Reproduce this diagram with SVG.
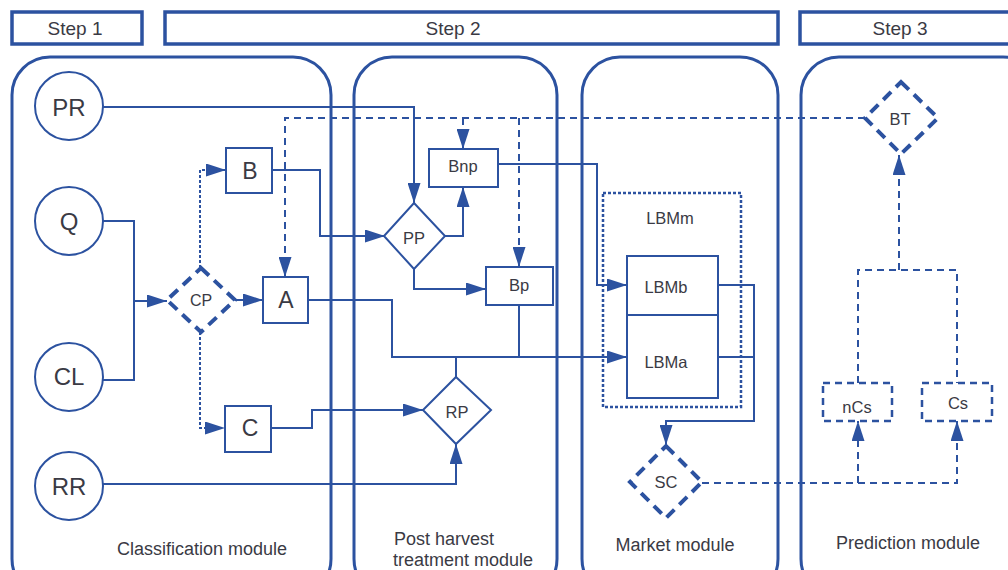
<svg xmlns="http://www.w3.org/2000/svg" width="1008" height="570" viewBox="0 0 1008 570">
<style>
.hdr{fill:#fff;stroke:#2c52a0;stroke-width:3.5}
.mod{fill:none;stroke:#2c52a0;stroke-width:3}
.box{fill:#fff;stroke:#2c52a0;stroke-width:2}
.dbox{fill:#fff;stroke:#2c52a0;stroke-width:2.5;stroke-dasharray:7 5}
.ddia{fill:#fff;stroke:#2c52a0;stroke-width:4;stroke-dasharray:11 7}
.c{fill:none;stroke:#2c52a0;stroke-width:2}
.cd{fill:none;stroke:#2c52a0;stroke-width:2;stroke-dasharray:7 5}
.cdot{fill:none;stroke:#2c52a0;stroke-width:2;stroke-dasharray:3 2}
.t{font-family:"Liberation Sans",Arial,sans-serif;fill:#3a3a44;text-anchor:middle;dominant-baseline:central}
.ml{font-size:18px}
.nl{font-size:16.5px}
</style>
<defs>
<marker id="ah" viewBox="0 0 20 13" refX="20" refY="6.5" markerWidth="20" markerHeight="13" markerUnits="userSpaceOnUse" orient="auto"><path d="M0,0 L20,6.5 L0,13 z" fill="#2c52a0"/></marker>
</defs>
<rect width="1008" height="570" fill="#fff"/>
<g id="headers">
<rect class="hdr" x="12" y="12" width="130" height="32"/>
<text class="t" x="75" y="28" font-size="19">Step 1</text>
<rect class="hdr" x="165" y="12" width="613" height="32"/>
<text class="t" x="453" y="28" font-size="19">Step 2</text>
<rect class="hdr" x="800" y="12" width="230" height="32"/>
<text class="t" x="900" y="28" font-size="19">Step 3</text>
</g>
<g id="modules">
<rect class="mod" x="12" y="57" width="319" height="540" rx="38"/>
<text class="t ml" x="202" y="549">Classification module</text>
<rect class="mod" x="354" y="57" width="203" height="540" rx="38"/>
<text class="t ml" x="394" y="539" style="text-anchor:start">Post harvest</text>
<text class="t ml" x="393" y="560" style="text-anchor:start">treatment module</text>
<rect class="mod" x="582" y="57" width="196" height="540" rx="38"/>
<text class="t ml" x="675" y="545">Market module</text>
<rect class="mod" x="801" y="57" width="240" height="540" rx="38"/>
<text class="t ml" x="908" y="543">Prediction module</text>
</g>
<g id="connectors">
<path class="c" d="M103,107 H414 V203" marker-end="url(#ah)"/>
<path class="cd" d="M865,118 H285 V277" marker-end="url(#ah)"/>
<path class="cd" d="M463,118 V149" marker-end="url(#ah)"/>
<path class="cd" d="M519,118 V267" marker-end="url(#ah)"/>
<path class="c" d="M272,170 H320 V236 H385" marker-end="url(#ah)"/>
<path class="c" d="M445,236 H463 V187" marker-end="url(#ah)"/>
<path class="c" d="M414,268 V289 H486" marker-end="url(#ah)"/>
<path class="c" d="M498,164 H597 V285 H627" marker-end="url(#ah)"/>
<path class="c" d="M308,300 H392 V357 H627" marker-end="url(#ah)"/>
<path class="c" d="M519,305 V357"/>
<path class="c" d="M456,377 V357"/>
<path class="c" d="M271,428 H312 V410 H423" marker-end="url(#ah)"/>
<path class="c" d="M103,484 H456 V444" marker-end="url(#ah)"/>
<path class="cdot" d="M200,268 V170 H226" marker-end="url(#ah)"/>
<path class="cdot" d="M200,332 V428 H225" marker-end="url(#ah)"/>
<path class="c" d="M103,221 H134 V380 H103"/>
<path class="c" d="M134,301 H167" marker-end="url(#ah)"/>
<path class="c" d="M234,300 H263" marker-end="url(#ah)"/>
<path class="c" d="M718,285 H754 V421 H666 V445" marker-end="url(#ah)"/>
<path class="c" d="M718,357 H754"/>
<path class="cd" d="M702,483 H957 V421" marker-end="url(#ah)"/>
<path class="cd" d="M858,483 V421" marker-end="url(#ah)"/>
<path class="cd" d="M858,383 V270 H957 V383"/>
<path class="cd" d="M899,270 V155" marker-end="url(#ah)"/>
</g>
<g id="PR"><circle class="box" cx="69" cy="106" r="34"/><text class="t" x="69" y="107" font-size="24">PR</text></g>
<g id="Q"><circle class="box" cx="69" cy="221" r="34"/><text class="t" x="69" y="221" font-size="24">Q</text></g>
<g id="CL"><circle class="box" cx="69" cy="377" r="34"/><text class="t" x="69" y="376" font-size="24">CL</text></g>
<g id="RR"><circle class="box" cx="69" cy="486" r="34"/><text class="t" x="69" y="486" font-size="24">RR</text></g>
<g id="B"><rect class="box" x="226" y="148" width="46" height="45"/><text class="t" x="250" y="171" font-size="23">B</text></g>
<g id="A"><rect class="box" x="263" y="277" width="45" height="46"/><text class="t" x="286" y="300" font-size="23">A</text></g>
<g id="C"><rect class="box" x="225" y="406" width="46" height="46"/><text class="t" x="250" y="428" font-size="23">C</text></g>
<g id="CP"><path class="ddia" d="M201,268 L235,300 L201,332 L167,300 Z"/><text class="t" x="201" y="300" font-size="16">CP</text></g>
<g id="PP"><path class="box" d="M414,203 L445,236 L414,269 L384,236 Z"/><text class="t nl" x="414" y="238">PP</text></g>
<g id="Bnp"><rect class="box" x="429" y="149" width="69" height="38"/><text class="t nl" x="463" y="166">Bnp</text></g>
<g id="Bp"><rect class="box" x="486" y="267" width="67" height="38"/><text class="t nl" x="519" y="285">Bp</text></g>
<g id="RP"><path class="box" d="M456,377 L491,410 L456,444 L423,410 Z"/><text class="t nl" x="457" y="412">RP</text></g>
<g id="LBMm"><rect x="603" y="193" width="138" height="214" fill="none" stroke="#2c52a0" stroke-width="2.5" stroke-dasharray="3 2"/><text class="t nl" x="670" y="218">LBMm</text></g>
<g id="LBMb"><rect class="box" x="627" y="256" width="91" height="59"/><text class="t nl" x="666" y="287">LBMb</text></g>
<g id="LBMa"><rect class="box" x="627" y="315" width="91" height="83"/><text class="t nl" x="666" y="362">LBMa</text></g>
<g id="SC"><path class="ddia" d="M666,446 L702,482 L666,518 L630,482 Z"/><text class="t nl" x="666" y="482">SC</text></g>
<g id="BT"><path class="ddia" d="M901,82 L938,118 L901,154 L865,118 Z"/><text class="t nl" x="900" y="119">BT</text></g>
<g id="nCs"><rect class="dbox" x="823" y="383" width="69" height="38"/><text class="t nl" x="857" y="407">nCs</text></g>
<g id="Cs"><rect class="dbox" x="922" y="383" width="70" height="38"/><text class="t nl" x="958" y="403">Cs</text></g>
</svg>
